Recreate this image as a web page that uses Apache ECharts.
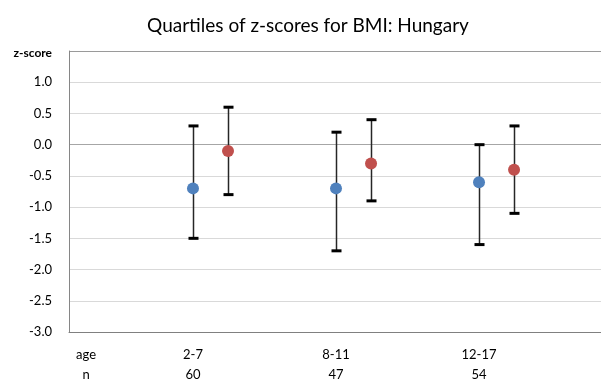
<!DOCTYPE html>
<html>
<head>
<meta charset="utf-8">
<script src="https://cdn.jsdelivr.net/npm/echarts@6/dist/echarts.min.js"></script>
<style>
  html, body { margin: 0; padding: 0; background: #fff; }
  #main { width: 601px; height: 385px; }
</style>
</head>
<body>
<div id="main"></div>
<script>
// age groups and sample sizes
var ageGroups = ["2-7", "8-11", "12-17"];
var nCounts = [60, 47, 54];

// first series (blue): median with lower / upper quartile
var blueMed = [-0.7, -0.7, -0.6];
var blueLow = [-1.5, -1.7, -1.6];
var blueHigh = [0.3, 0.2, 0.0];

// second series (red)
var redMed = [-0.1, -0.3, -0.4];
var redLow = [-0.8, -0.9, -1.1];
var redHigh = [0.6, 0.4, 0.3];

var yTicks = [-3.0, -2.5, -2.0, -1.5, -1.0, -0.5, 0.0, 0.5, 1.0, 1.5];

var font = "Lato, 'Open Sans', sans-serif";
var redShift = 0.245;   // red marks sit a bit right of the group centre
var ageLabelPos = 0.252;

var bluePts = [], redPts = [], blueBars = [], redBars = [];
for (var i = 0; i < ageGroups.length; i++) {
  var gx = i + 1;
  bluePts.push([gx, blueMed[i]]);
  redPts.push([gx + redShift, redMed[i]]);
  blueBars.push([gx, blueLow[i], blueHigh[i]]);
  redBars.push([gx + redShift, redLow[i], redHigh[i]]);
}

function errorBar(params, api) {
  var x = api.value(0);
  var lo = api.coord([x, api.value(1)]);
  var hi = api.coord([x, api.value(2)]);
  var px = Math.round(lo[0]) + 0.5;
  return {
    type: "group",
    children: [
      { type: "line", shape: { x1: px, y1: lo[1], x2: px, y2: hi[1] },
        style: { stroke: "#262626", lineWidth: 1.5 } },
      { type: "line", shape: { x1: px - 5, y1: hi[1], x2: px + 5, y2: hi[1] },
        style: { stroke: "#000", lineWidth: 3 } },
      { type: "line", shape: { x1: px - 5, y1: lo[1], x2: px + 5, y2: lo[1] },
        style: { stroke: "#000", lineWidth: 3 } }
    ]
  };
}

var gridColors = yTicks.map(function (v) {
  if (v === 0) return "#a6a6a6";
  if (v === 1.5) return "#9a9a9a";
  if (v === -3.0) return "#808080";
  return "#d9d9d9";
});

var myChart = echarts.init(document.getElementById("main"));
myChart.setOption({
  animation: false,
  title: {
    text: "Quartiles of z-scores for BMI: Hungary",
    left: 303,
    textAlign: "center",
    top: 11,
    textStyle: { fontFamily: font, fontSize: 19, fontWeight: "normal", color: "#000" }
  },
  grid: { left: 69, right: 0, top: 51, bottom: 51 },
  xAxis: {
    type: "value",
    min: 0.133,
    max: 3.853,
    splitLine: { show: false },
    axisTick: { show: false },
    axisLine: { show: true, onZero: false, lineStyle: { color: "#808080", width: 1 } },
    axisLabel: {
      customValues: [ageLabelPos, 1, 2, 3],
      margin: 13,
      fontFamily: font,
      fontSize: 13,
      lineHeight: 20,
      color: "#000",
      formatter: function (v) {
        if (Math.abs(v - ageLabelPos) < 1e-6) return "age\nn";
        var k = Math.round(v) - 1;
        return ageGroups[k] + "\n" + nCounts[k];
      }
    }
  },
  yAxis: {
    type: "value",
    min: -3,
    max: 1.5,
    interval: 0.5,
    axisTick: { show: false },
    axisLine: { show: true, lineStyle: { color: "#868686", width: 1 } },
    splitLine: { show: true, lineStyle: { color: gridColors, width: 1 } },
    axisLabel: {
      margin: 17,
      fontFamily: font,
      fontSize: 13,
      color: "#000",
      formatter: function (v) {
        if (Math.abs(v - 1.5) < 1e-6) return "{b|z-score}";
        return v.toFixed(1);
      },
      rich: {
        b: { fontFamily: font, fontSize: 12, fontWeight: "bold", color: "#000", padding: [5, 0, 0, 0] }
      }
    }
  },
  series: [
    { type: "custom", renderItem: errorBar, data: blueBars, z: 2 },
    { type: "custom", renderItem: errorBar, data: redBars, z: 2 },
    { type: "scatter", data: bluePts, symbolSize: 12, z: 5,
      itemStyle: { color: "#4f81bd", opacity: 1 } },
    { type: "scatter", data: redPts, symbolSize: 12, z: 5,
      itemStyle: { color: "#c0504d", opacity: 1 } }
  ]
});
</script>
</body>
</html>
